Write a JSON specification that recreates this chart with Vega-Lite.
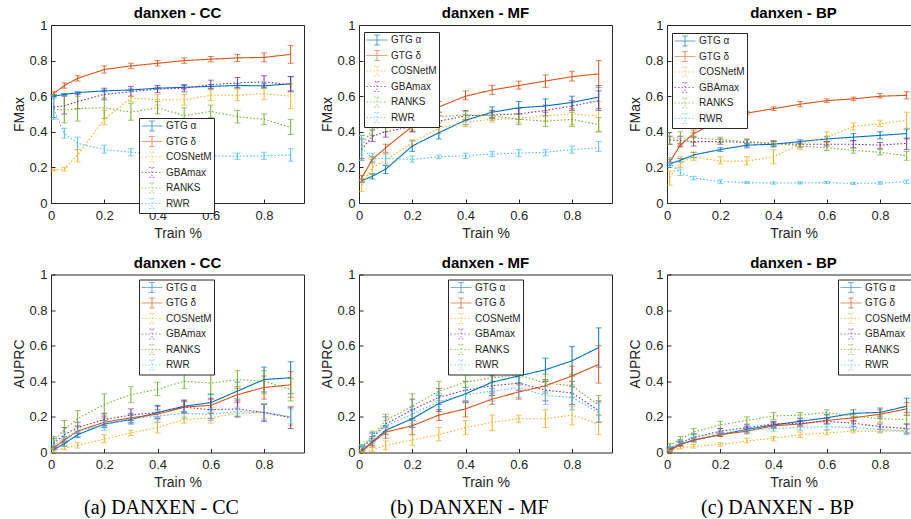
{
"$schema":"https://vega.github.io/schema/vega-lite/v6.json",
"background":"white",
"padding":{"left":12,"top":5,"right":0,"bottom":0},
"config":{
 "font":"Liberation Sans",
 "view":{"stroke":"#262626","strokeWidth":1},
 "axis":{"domain":false,"grid":false,"tickSize":-4,"tickColor":"#262626","labelColor":"#262626","labelFont":"Liberation Sans","labelFontSize":13,"labelOverlap":false,"labelFlush":false,"labelBound":false,"titleFont":"Liberation Sans","titleFontSize":14,"titleFontWeight":"normal","titleColor":"#262626"},
 "axisX":{"labelPadding":10,"titlePadding":4},
 "axisY":{"labelPadding":8,"titlePadding":2},
 "title":{"font":"Liberation Sans","fontSize":15,"fontWeight":"bold","color":"black","offset":-2},
 "range":{"category":["#0072BD","#D95319","#EDB120","#7E2F8E","#77AC30","#4DBEEE"]},
 "legend":{"title":null,"strokeColor":"#262626","fillColor":"white","padding":2,"labelFont":"Liberation Sans","labelFontSize":10,"labelColor":"#262626","labelOffset":8,"rowPadding":1.5,"symbolType":"M-1.9,0H1.9M0,-0.9V0.9M-0.5,-0.9H0.5M-0.5,0.9H0.5","symbolSize":121,"symbolOffset":5,"symbolStrokeWidth":1,"symbolFillColor":"transparent","cornerRadius":0}
},
"data":{"values":[
{"p":"CC F","m":"GTG α","x":0.01,"y":0.60,"l":0.59,"h":0.61},
{"p":"CC F","m":"GTG α","x":0.05,"y":0.61,"l":0.605,"h":0.615},
{"p":"CC F","m":"GTG α","x":0.1,"y":0.62,"l":0.615,"h":0.625},
{"p":"CC F","m":"GTG α","x":0.2,"y":0.63,"l":0.625,"h":0.635},
{"p":"CC F","m":"GTG α","x":0.3,"y":0.635,"l":0.63,"h":0.64},
{"p":"CC F","m":"GTG α","x":0.4,"y":0.645,"l":0.64,"h":0.65},
{"p":"CC F","m":"GTG α","x":0.5,"y":0.65,"l":0.64,"h":0.66},
{"p":"CC F","m":"GTG α","x":0.6,"y":0.655,"l":0.645,"h":0.665},
{"p":"CC F","m":"GTG α","x":0.7,"y":0.66,"l":0.65,"h":0.67},
{"p":"CC F","m":"GTG α","x":0.8,"y":0.658,"l":0.645,"h":0.67},
{"p":"CC F","m":"GTG α","x":0.9,"y":0.67,"l":0.63,"h":0.71},
{"p":"CC F","m":"GTG δ","x":0.01,"y":0.615,"l":0.605,"h":0.625},
{"p":"CC F","m":"GTG δ","x":0.05,"y":0.66,"l":0.645,"h":0.675},
{"p":"CC F","m":"GTG δ","x":0.1,"y":0.70,"l":0.685,"h":0.715},
{"p":"CC F","m":"GTG δ","x":0.2,"y":0.75,"l":0.73,"h":0.77},
{"p":"CC F","m":"GTG δ","x":0.3,"y":0.77,"l":0.755,"h":0.785},
{"p":"CC F","m":"GTG δ","x":0.4,"y":0.785,"l":0.77,"h":0.80},
{"p":"CC F","m":"GTG δ","x":0.5,"y":0.80,"l":0.785,"h":0.815},
{"p":"CC F","m":"GTG δ","x":0.6,"y":0.808,"l":0.793,"h":0.823},
{"p":"CC F","m":"GTG δ","x":0.7,"y":0.815,"l":0.795,"h":0.835},
{"p":"CC F","m":"GTG δ","x":0.8,"y":0.818,"l":0.793,"h":0.843},
{"p":"CC F","m":"GTG δ","x":0.9,"y":0.835,"l":0.785,"h":0.885},
{"p":"CC F","m":"COSNetM","x":0.01,"y":0.185,"l":0.18,"h":0.19},
{"p":"CC F","m":"COSNetM","x":0.05,"y":0.19,"l":0.18,"h":0.20},
{"p":"CC F","m":"COSNetM","x":0.1,"y":0.27,"l":0.23,"h":0.30},
{"p":"CC F","m":"COSNetM","x":0.2,"y":0.47,"l":0.44,"h":0.52},
{"p":"CC F","m":"COSNetM","x":0.3,"y":0.59,"l":0.57,"h":0.60},
{"p":"CC F","m":"COSNetM","x":0.4,"y":0.58,"l":0.55,"h":0.61},
{"p":"CC F","m":"COSNetM","x":0.5,"y":0.58,"l":0.55,"h":0.61},
{"p":"CC F","m":"COSNetM","x":0.6,"y":0.605,"l":0.575,"h":0.635},
{"p":"CC F","m":"COSNetM","x":0.7,"y":0.605,"l":0.575,"h":0.64},
{"p":"CC F","m":"COSNetM","x":0.8,"y":0.615,"l":0.58,"h":0.645},
{"p":"CC F","m":"COSNetM","x":0.9,"y":0.60,"l":0.53,"h":0.67},
{"p":"CC F","m":"GBAmax","x":0.01,"y":0.54,"l":0.48,"h":0.60},
{"p":"CC F","m":"GBAmax","x":0.05,"y":0.545,"l":0.50,"h":0.60},
{"p":"CC F","m":"GBAmax","x":0.1,"y":0.57,"l":0.53,"h":0.61},
{"p":"CC F","m":"GBAmax","x":0.2,"y":0.61,"l":0.58,"h":0.645},
{"p":"CC F","m":"GBAmax","x":0.3,"y":0.625,"l":0.60,"h":0.655},
{"p":"CC F","m":"GBAmax","x":0.4,"y":0.64,"l":0.62,"h":0.66},
{"p":"CC F","m":"GBAmax","x":0.5,"y":0.645,"l":0.625,"h":0.665},
{"p":"CC F","m":"GBAmax","x":0.6,"y":0.665,"l":0.64,"h":0.69},
{"p":"CC F","m":"GBAmax","x":0.7,"y":0.675,"l":0.645,"h":0.705},
{"p":"CC F","m":"GBAmax","x":0.8,"y":0.68,"l":0.65,"h":0.715},
{"p":"CC F","m":"GBAmax","x":0.9,"y":0.665,"l":0.625,"h":0.71},
{"p":"CC F","m":"RANKS","x":0.01,"y":0.53,"l":0.48,"h":0.61},
{"p":"CC F","m":"RANKS","x":0.05,"y":0.52,"l":0.45,"h":0.61},
{"p":"CC F","m":"RANKS","x":0.1,"y":0.53,"l":0.46,"h":0.60},
{"p":"CC F","m":"RANKS","x":0.2,"y":0.535,"l":0.475,"h":0.59},
{"p":"CC F","m":"RANKS","x":0.3,"y":0.51,"l":0.465,"h":0.56},
{"p":"CC F","m":"RANKS","x":0.4,"y":0.535,"l":0.50,"h":0.57},
{"p":"CC F","m":"RANKS","x":0.5,"y":0.49,"l":0.45,"h":0.535},
{"p":"CC F","m":"RANKS","x":0.6,"y":0.515,"l":0.48,"h":0.55},
{"p":"CC F","m":"RANKS","x":0.7,"y":0.485,"l":0.45,"h":0.52},
{"p":"CC F","m":"RANKS","x":0.8,"y":0.47,"l":0.44,"h":0.50},
{"p":"CC F","m":"RANKS","x":0.9,"y":0.425,"l":0.385,"h":0.47},
{"p":"CC F","m":"RWR","x":0.01,"y":0.53,"l":0.47,"h":0.60},
{"p":"CC F","m":"RWR","x":0.05,"y":0.39,"l":0.365,"h":0.42},
{"p":"CC F","m":"RWR","x":0.1,"y":0.335,"l":0.30,"h":0.37},
{"p":"CC F","m":"RWR","x":0.2,"y":0.30,"l":0.28,"h":0.325},
{"p":"CC F","m":"RWR","x":0.3,"y":0.285,"l":0.265,"h":0.305},
{"p":"CC F","m":"RWR","x":0.4,"y":0.275,"l":0.255,"h":0.29},
{"p":"CC F","m":"RWR","x":0.5,"y":0.265,"l":0.25,"h":0.28},
{"p":"CC F","m":"RWR","x":0.6,"y":0.265,"l":0.245,"h":0.285},
{"p":"CC F","m":"RWR","x":0.7,"y":0.262,"l":0.245,"h":0.28},
{"p":"CC F","m":"RWR","x":0.8,"y":0.265,"l":0.245,"h":0.285},
{"p":"CC F","m":"RWR","x":0.9,"y":0.27,"l":0.235,"h":0.305},

{"p":"MF F","m":"GTG α","x":0.01,"y":0.125,"l":0.115,"h":0.135},
{"p":"MF F","m":"GTG α","x":0.05,"y":0.15,"l":0.135,"h":0.165},
{"p":"MF F","m":"GTG α","x":0.1,"y":0.19,"l":0.165,"h":0.21},
{"p":"MF F","m":"GTG α","x":0.2,"y":0.32,"l":0.29,"h":0.35},
{"p":"MF F","m":"GTG α","x":0.3,"y":0.395,"l":0.36,"h":0.43},
{"p":"MF F","m":"GTG α","x":0.4,"y":0.465,"l":0.44,"h":0.495},
{"p":"MF F","m":"GTG α","x":0.5,"y":0.51,"l":0.48,"h":0.54},
{"p":"MF F","m":"GTG α","x":0.6,"y":0.535,"l":0.50,"h":0.57},
{"p":"MF F","m":"GTG α","x":0.7,"y":0.545,"l":0.51,"h":0.585},
{"p":"MF F","m":"GTG α","x":0.8,"y":0.565,"l":0.53,"h":0.60},
{"p":"MF F","m":"GTG α","x":0.9,"y":0.595,"l":0.53,"h":0.66},
{"p":"MF F","m":"GTG δ","x":0.01,"y":0.14,"l":0.12,"h":0.155},
{"p":"MF F","m":"GTG δ","x":0.05,"y":0.245,"l":0.23,"h":0.26},
{"p":"MF F","m":"GTG δ","x":0.1,"y":0.31,"l":0.285,"h":0.33},
{"p":"MF F","m":"GTG δ","x":0.2,"y":0.43,"l":0.40,"h":0.46},
{"p":"MF F","m":"GTG δ","x":0.3,"y":0.54,"l":0.51,"h":0.57},
{"p":"MF F","m":"GTG δ","x":0.4,"y":0.60,"l":0.58,"h":0.63},
{"p":"MF F","m":"GTG δ","x":0.5,"y":0.635,"l":0.61,"h":0.66},
{"p":"MF F","m":"GTG δ","x":0.6,"y":0.66,"l":0.64,"h":0.685},
{"p":"MF F","m":"GTG δ","x":0.7,"y":0.685,"l":0.65,"h":0.72},
{"p":"MF F","m":"GTG δ","x":0.8,"y":0.71,"l":0.685,"h":0.74},
{"p":"MF F","m":"GTG δ","x":0.9,"y":0.725,"l":0.65,"h":0.80},
{"p":"MF F","m":"COSNetM","x":0.01,"y":0.10,"l":0.065,"h":0.13},
{"p":"MF F","m":"COSNetM","x":0.05,"y":0.20,"l":0.16,"h":0.245},
{"p":"MF F","m":"COSNetM","x":0.1,"y":0.24,"l":0.21,"h":0.275},
{"p":"MF F","m":"COSNetM","x":0.2,"y":0.34,"l":0.32,"h":0.355},
{"p":"MF F","m":"COSNetM","x":0.3,"y":0.42,"l":0.39,"h":0.46},
{"p":"MF F","m":"COSNetM","x":0.4,"y":0.455,"l":0.43,"h":0.48},
{"p":"MF F","m":"COSNetM","x":0.5,"y":0.47,"l":0.455,"h":0.49},
{"p":"MF F","m":"COSNetM","x":0.6,"y":0.475,"l":0.45,"h":0.50},
{"p":"MF F","m":"COSNetM","x":0.7,"y":0.49,"l":0.46,"h":0.52},
{"p":"MF F","m":"COSNetM","x":0.8,"y":0.50,"l":0.44,"h":0.53},
{"p":"MF F","m":"COSNetM","x":0.9,"y":0.49,"l":0.40,"h":0.57},
{"p":"MF F","m":"GBAmax","x":0.01,"y":0.30,"l":0.25,"h":0.36},
{"p":"MF F","m":"GBAmax","x":0.05,"y":0.375,"l":0.345,"h":0.41},
{"p":"MF F","m":"GBAmax","x":0.1,"y":0.40,"l":0.37,"h":0.43},
{"p":"MF F","m":"GBAmax","x":0.2,"y":0.43,"l":0.40,"h":0.46},
{"p":"MF F","m":"GBAmax","x":0.3,"y":0.46,"l":0.43,"h":0.49},
{"p":"MF F","m":"GBAmax","x":0.4,"y":0.49,"l":0.465,"h":0.52},
{"p":"MF F","m":"GBAmax","x":0.5,"y":0.495,"l":0.475,"h":0.52},
{"p":"MF F","m":"GBAmax","x":0.6,"y":0.50,"l":0.47,"h":0.53},
{"p":"MF F","m":"GBAmax","x":0.7,"y":0.52,"l":0.49,"h":0.55},
{"p":"MF F","m":"GBAmax","x":0.8,"y":0.545,"l":0.52,"h":0.575},
{"p":"MF F","m":"GBAmax","x":0.9,"y":0.575,"l":0.52,"h":0.63},
{"p":"MF F","m":"RANKS","x":0.01,"y":0.32,"l":0.24,"h":0.38},
{"p":"MF F","m":"RANKS","x":0.05,"y":0.415,"l":0.38,"h":0.45},
{"p":"MF F","m":"RANKS","x":0.1,"y":0.43,"l":0.40,"h":0.465},
{"p":"MF F","m":"RANKS","x":0.2,"y":0.45,"l":0.41,"h":0.495},
{"p":"MF F","m":"RANKS","x":0.3,"y":0.485,"l":0.45,"h":0.51},
{"p":"MF F","m":"RANKS","x":0.4,"y":0.495,"l":0.47,"h":0.515},
{"p":"MF F","m":"RANKS","x":0.5,"y":0.49,"l":0.465,"h":0.515},
{"p":"MF F","m":"RANKS","x":0.6,"y":0.47,"l":0.44,"h":0.50},
{"p":"MF F","m":"RANKS","x":0.7,"y":0.46,"l":0.43,"h":0.49},
{"p":"MF F","m":"RANKS","x":0.8,"y":0.47,"l":0.43,"h":0.51},
{"p":"MF F","m":"RANKS","x":0.9,"y":0.44,"l":0.40,"h":0.48},
{"p":"MF F","m":"RWR","x":0.01,"y":0.31,"l":0.24,"h":0.38},
{"p":"MF F","m":"RWR","x":0.05,"y":0.25,"l":0.225,"h":0.28},
{"p":"MF F","m":"RWR","x":0.1,"y":0.25,"l":0.22,"h":0.28},
{"p":"MF F","m":"RWR","x":0.2,"y":0.245,"l":0.23,"h":0.265},
{"p":"MF F","m":"RWR","x":0.3,"y":0.26,"l":0.25,"h":0.27},
{"p":"MF F","m":"RWR","x":0.4,"y":0.265,"l":0.25,"h":0.28},
{"p":"MF F","m":"RWR","x":0.5,"y":0.275,"l":0.26,"h":0.29},
{"p":"MF F","m":"RWR","x":0.6,"y":0.28,"l":0.26,"h":0.30},
{"p":"MF F","m":"RWR","x":0.7,"y":0.285,"l":0.265,"h":0.30},
{"p":"MF F","m":"RWR","x":0.8,"y":0.30,"l":0.28,"h":0.32},
{"p":"MF F","m":"RWR","x":0.9,"y":0.31,"l":0.29,"h":0.345},

{"p":"BP F","m":"GTG α","x":0.01,"y":0.22,"l":0.21,"h":0.23},
{"p":"BP F","m":"GTG α","x":0.05,"y":0.24,"l":0.23,"h":0.25},
{"p":"BP F","m":"GTG α","x":0.1,"y":0.27,"l":0.255,"h":0.285},
{"p":"BP F","m":"GTG α","x":0.2,"y":0.30,"l":0.29,"h":0.31},
{"p":"BP F","m":"GTG α","x":0.3,"y":0.325,"l":0.31,"h":0.335},
{"p":"BP F","m":"GTG α","x":0.4,"y":0.33,"l":0.315,"h":0.345},
{"p":"BP F","m":"GTG α","x":0.5,"y":0.345,"l":0.335,"h":0.355},
{"p":"BP F","m":"GTG α","x":0.6,"y":0.36,"l":0.345,"h":0.375},
{"p":"BP F","m":"GTG α","x":0.7,"y":0.37,"l":0.35,"h":0.39},
{"p":"BP F","m":"GTG α","x":0.8,"y":0.38,"l":0.36,"h":0.40},
{"p":"BP F","m":"GTG α","x":0.9,"y":0.39,"l":0.36,"h":0.415},
{"p":"BP F","m":"GTG δ","x":0.01,"y":0.23,"l":0.22,"h":0.245},
{"p":"BP F","m":"GTG δ","x":0.05,"y":0.325,"l":0.315,"h":0.335},
{"p":"BP F","m":"GTG δ","x":0.1,"y":0.39,"l":0.375,"h":0.41},
{"p":"BP F","m":"GTG δ","x":0.2,"y":0.465,"l":0.45,"h":0.48},
{"p":"BP F","m":"GTG δ","x":0.3,"y":0.505,"l":0.495,"h":0.515},
{"p":"BP F","m":"GTG δ","x":0.4,"y":0.53,"l":0.52,"h":0.54},
{"p":"BP F","m":"GTG δ","x":0.5,"y":0.555,"l":0.54,"h":0.57},
{"p":"BP F","m":"GTG δ","x":0.6,"y":0.575,"l":0.565,"h":0.585},
{"p":"BP F","m":"GTG δ","x":0.7,"y":0.585,"l":0.575,"h":0.595},
{"p":"BP F","m":"GTG δ","x":0.8,"y":0.60,"l":0.59,"h":0.615},
{"p":"BP F","m":"GTG δ","x":0.9,"y":0.605,"l":0.585,"h":0.625},
{"p":"BP F","m":"COSNetM","x":0.01,"y":0.145,"l":0.10,"h":0.18},
{"p":"BP F","m":"COSNetM","x":0.05,"y":0.225,"l":0.20,"h":0.26},
{"p":"BP F","m":"COSNetM","x":0.1,"y":0.26,"l":0.24,"h":0.285},
{"p":"BP F","m":"COSNetM","x":0.2,"y":0.235,"l":0.22,"h":0.26},
{"p":"BP F","m":"COSNetM","x":0.3,"y":0.235,"l":0.215,"h":0.26},
{"p":"BP F","m":"COSNetM","x":0.4,"y":0.26,"l":0.22,"h":0.30},
{"p":"BP F","m":"COSNetM","x":0.5,"y":0.33,"l":0.30,"h":0.345},
{"p":"BP F","m":"COSNetM","x":0.6,"y":0.37,"l":0.34,"h":0.40},
{"p":"BP F","m":"COSNetM","x":0.7,"y":0.43,"l":0.41,"h":0.45},
{"p":"BP F","m":"COSNetM","x":0.8,"y":0.445,"l":0.43,"h":0.465},
{"p":"BP F","m":"COSNetM","x":0.9,"y":0.465,"l":0.42,"h":0.51},
{"p":"BP F","m":"GBAmax","x":0.01,"y":0.355,"l":0.33,"h":0.375},
{"p":"BP F","m":"GBAmax","x":0.05,"y":0.35,"l":0.32,"h":0.375},
{"p":"BP F","m":"GBAmax","x":0.1,"y":0.345,"l":0.32,"h":0.37},
{"p":"BP F","m":"GBAmax","x":0.2,"y":0.345,"l":0.33,"h":0.36},
{"p":"BP F","m":"GBAmax","x":0.3,"y":0.34,"l":0.32,"h":0.355},
{"p":"BP F","m":"GBAmax","x":0.4,"y":0.335,"l":0.32,"h":0.35},
{"p":"BP F","m":"GBAmax","x":0.5,"y":0.33,"l":0.315,"h":0.345},
{"p":"BP F","m":"GBAmax","x":0.6,"y":0.33,"l":0.32,"h":0.345},
{"p":"BP F","m":"GBAmax","x":0.7,"y":0.33,"l":0.31,"h":0.35},
{"p":"BP F","m":"GBAmax","x":0.8,"y":0.325,"l":0.305,"h":0.34},
{"p":"BP F","m":"GBAmax","x":0.9,"y":0.335,"l":0.30,"h":0.365},
{"p":"BP F","m":"RANKS","x":0.01,"y":0.365,"l":0.33,"h":0.395},
{"p":"BP F","m":"RANKS","x":0.05,"y":0.365,"l":0.33,"h":0.40},
{"p":"BP F","m":"RANKS","x":0.1,"y":0.365,"l":0.34,"h":0.395},
{"p":"BP F","m":"RANKS","x":0.2,"y":0.355,"l":0.34,"h":0.37},
{"p":"BP F","m":"RANKS","x":0.3,"y":0.345,"l":0.33,"h":0.36},
{"p":"BP F","m":"RANKS","x":0.4,"y":0.335,"l":0.32,"h":0.345},
{"p":"BP F","m":"RANKS","x":0.5,"y":0.32,"l":0.31,"h":0.33},
{"p":"BP F","m":"RANKS","x":0.6,"y":0.31,"l":0.295,"h":0.325},
{"p":"BP F","m":"RANKS","x":0.7,"y":0.295,"l":0.28,"h":0.31},
{"p":"BP F","m":"RANKS","x":0.8,"y":0.285,"l":0.27,"h":0.30},
{"p":"BP F","m":"RANKS","x":0.9,"y":0.265,"l":0.24,"h":0.29},
{"p":"BP F","m":"RWR","x":0.01,"y":0.225,"l":0.20,"h":0.255},
{"p":"BP F","m":"RWR","x":0.05,"y":0.17,"l":0.155,"h":0.19},
{"p":"BP F","m":"RWR","x":0.1,"y":0.14,"l":0.13,"h":0.15},
{"p":"BP F","m":"RWR","x":0.2,"y":0.12,"l":0.11,"h":0.13},
{"p":"BP F","m":"RWR","x":0.3,"y":0.115,"l":0.11,"h":0.12},
{"p":"BP F","m":"RWR","x":0.4,"y":0.112,"l":0.106,"h":0.118},
{"p":"BP F","m":"RWR","x":0.5,"y":0.113,"l":0.107,"h":0.119},
{"p":"BP F","m":"RWR","x":0.6,"y":0.115,"l":0.109,"h":0.121},
{"p":"BP F","m":"RWR","x":0.7,"y":0.11,"l":0.104,"h":0.116},
{"p":"BP F","m":"RWR","x":0.8,"y":0.112,"l":0.105,"h":0.12},
{"p":"BP F","m":"RWR","x":0.9,"y":0.12,"l":0.11,"h":0.13},

{"p":"CC A","m":"GTG α","x":0.01,"y":0.015,"l":0.0,"h":0.03},
{"p":"CC A","m":"GTG α","x":0.05,"y":0.05,"l":0.035,"h":0.07},
{"p":"CC A","m":"GTG α","x":0.1,"y":0.10,"l":0.085,"h":0.12},
{"p":"CC A","m":"GTG α","x":0.2,"y":0.16,"l":0.14,"h":0.18},
{"p":"CC A","m":"GTG α","x":0.3,"y":0.185,"l":0.16,"h":0.21},
{"p":"CC A","m":"GTG α","x":0.4,"y":0.225,"l":0.20,"h":0.265},
{"p":"CC A","m":"GTG α","x":0.5,"y":0.26,"l":0.23,"h":0.29},
{"p":"CC A","m":"GTG α","x":0.6,"y":0.28,"l":0.24,"h":0.325},
{"p":"CC A","m":"GTG α","x":0.7,"y":0.345,"l":0.30,"h":0.395},
{"p":"CC A","m":"GTG α","x":0.8,"y":0.41,"l":0.34,"h":0.48},
{"p":"CC A","m":"GTG α","x":0.9,"y":0.42,"l":0.33,"h":0.51},
{"p":"CC A","m":"GTG δ","x":0.01,"y":0.025,"l":0.01,"h":0.04},
{"p":"CC A","m":"GTG δ","x":0.05,"y":0.07,"l":0.055,"h":0.09},
{"p":"CC A","m":"GTG δ","x":0.1,"y":0.12,"l":0.105,"h":0.145},
{"p":"CC A","m":"GTG δ","x":0.2,"y":0.17,"l":0.15,"h":0.20},
{"p":"CC A","m":"GTG δ","x":0.3,"y":0.195,"l":0.17,"h":0.22},
{"p":"CC A","m":"GTG δ","x":0.4,"y":0.215,"l":0.19,"h":0.24},
{"p":"CC A","m":"GTG δ","x":0.5,"y":0.255,"l":0.225,"h":0.285},
{"p":"CC A","m":"GTG δ","x":0.6,"y":0.265,"l":0.22,"h":0.305},
{"p":"CC A","m":"GTG δ","x":0.7,"y":0.325,"l":0.28,"h":0.37},
{"p":"CC A","m":"GTG δ","x":0.8,"y":0.365,"l":0.30,"h":0.43},
{"p":"CC A","m":"GTG δ","x":0.9,"y":0.38,"l":0.31,"h":0.455},
{"p":"CC A","m":"COSNetM","x":0.01,"y":0.01,"l":0.0,"h":0.02},
{"p":"CC A","m":"COSNetM","x":0.05,"y":0.025,"l":0.015,"h":0.04},
{"p":"CC A","m":"COSNetM","x":0.1,"y":0.04,"l":0.025,"h":0.055},
{"p":"CC A","m":"COSNetM","x":0.2,"y":0.075,"l":0.055,"h":0.10},
{"p":"CC A","m":"COSNetM","x":0.3,"y":0.11,"l":0.095,"h":0.125},
{"p":"CC A","m":"COSNetM","x":0.4,"y":0.14,"l":0.11,"h":0.17},
{"p":"CC A","m":"COSNetM","x":0.5,"y":0.185,"l":0.165,"h":0.20},
{"p":"CC A","m":"COSNetM","x":0.6,"y":0.195,"l":0.165,"h":0.225},
{"p":"CC A","m":"COSNetM","x":0.7,"y":0.22,"l":0.20,"h":0.245},
{"p":"CC A","m":"COSNetM","x":0.8,"y":0.225,"l":0.19,"h":0.27},
{"p":"CC A","m":"COSNetM","x":0.9,"y":0.20,"l":0.15,"h":0.26},
{"p":"CC A","m":"GBAmax","x":0.01,"y":0.05,"l":0.02,"h":0.08},
{"p":"CC A","m":"GBAmax","x":0.05,"y":0.10,"l":0.06,"h":0.14},
{"p":"CC A","m":"GBAmax","x":0.1,"y":0.14,"l":0.11,"h":0.17},
{"p":"CC A","m":"GBAmax","x":0.2,"y":0.185,"l":0.15,"h":0.22},
{"p":"CC A","m":"GBAmax","x":0.3,"y":0.21,"l":0.18,"h":0.245},
{"p":"CC A","m":"GBAmax","x":0.4,"y":0.225,"l":0.19,"h":0.26},
{"p":"CC A","m":"GBAmax","x":0.5,"y":0.255,"l":0.22,"h":0.295},
{"p":"CC A","m":"GBAmax","x":0.6,"y":0.24,"l":0.19,"h":0.30},
{"p":"CC A","m":"GBAmax","x":0.7,"y":0.245,"l":0.20,"h":0.29},
{"p":"CC A","m":"GBAmax","x":0.8,"y":0.225,"l":0.175,"h":0.27},
{"p":"CC A","m":"GBAmax","x":0.9,"y":0.195,"l":0.135,"h":0.255},
{"p":"CC A","m":"RANKS","x":0.01,"y":0.06,"l":0.03,"h":0.09},
{"p":"CC A","m":"RANKS","x":0.05,"y":0.13,"l":0.08,"h":0.18},
{"p":"CC A","m":"RANKS","x":0.1,"y":0.19,"l":0.15,"h":0.235},
{"p":"CC A","m":"RANKS","x":0.2,"y":0.27,"l":0.21,"h":0.33},
{"p":"CC A","m":"RANKS","x":0.3,"y":0.325,"l":0.28,"h":0.37},
{"p":"CC A","m":"RANKS","x":0.4,"y":0.355,"l":0.32,"h":0.395},
{"p":"CC A","m":"RANKS","x":0.5,"y":0.40,"l":0.36,"h":0.44},
{"p":"CC A","m":"RANKS","x":0.6,"y":0.39,"l":0.33,"h":0.455},
{"p":"CC A","m":"RANKS","x":0.7,"y":0.41,"l":0.36,"h":0.46},
{"p":"CC A","m":"RANKS","x":0.8,"y":0.40,"l":0.33,"h":0.46},
{"p":"CC A","m":"RANKS","x":0.9,"y":0.355,"l":0.29,"h":0.415},
{"p":"CC A","m":"RWR","x":0.01,"y":0.04,"l":0.02,"h":0.07},
{"p":"CC A","m":"RWR","x":0.05,"y":0.08,"l":0.05,"h":0.115},
{"p":"CC A","m":"RWR","x":0.1,"y":0.12,"l":0.09,"h":0.15},
{"p":"CC A","m":"RWR","x":0.2,"y":0.155,"l":0.125,"h":0.19},
{"p":"CC A","m":"RWR","x":0.3,"y":0.19,"l":0.165,"h":0.215},
{"p":"CC A","m":"RWR","x":0.4,"y":0.205,"l":0.17,"h":0.24},
{"p":"CC A","m":"RWR","x":0.5,"y":0.22,"l":0.19,"h":0.255},
{"p":"CC A","m":"RWR","x":0.6,"y":0.215,"l":0.18,"h":0.25},
{"p":"CC A","m":"RWR","x":0.7,"y":0.23,"l":0.205,"h":0.255},
{"p":"CC A","m":"RWR","x":0.8,"y":0.225,"l":0.18,"h":0.275},
{"p":"CC A","m":"RWR","x":0.9,"y":0.20,"l":0.16,"h":0.245},

{"p":"MF A","m":"GTG α","x":0.01,"y":0.01,"l":0.0,"h":0.03},
{"p":"MF A","m":"GTG α","x":0.05,"y":0.06,"l":0.04,"h":0.09},
{"p":"MF A","m":"GTG α","x":0.1,"y":0.125,"l":0.10,"h":0.15},
{"p":"MF A","m":"GTG α","x":0.2,"y":0.19,"l":0.14,"h":0.24},
{"p":"MF A","m":"GTG α","x":0.3,"y":0.275,"l":0.23,"h":0.32},
{"p":"MF A","m":"GTG α","x":0.4,"y":0.33,"l":0.28,"h":0.365},
{"p":"MF A","m":"GTG α","x":0.5,"y":0.395,"l":0.34,"h":0.45},
{"p":"MF A","m":"GTG α","x":0.6,"y":0.43,"l":0.39,"h":0.47},
{"p":"MF A","m":"GTG α","x":0.7,"y":0.465,"l":0.40,"h":0.53},
{"p":"MF A","m":"GTG α","x":0.8,"y":0.515,"l":0.43,"h":0.595},
{"p":"MF A","m":"GTG α","x":0.9,"y":0.59,"l":0.48,"h":0.70},
{"p":"MF A","m":"GTG δ","x":0.01,"y":0.005,"l":0.0,"h":0.015},
{"p":"MF A","m":"GTG δ","x":0.05,"y":0.055,"l":0.03,"h":0.08},
{"p":"MF A","m":"GTG δ","x":0.1,"y":0.115,"l":0.08,"h":0.145},
{"p":"MF A","m":"GTG δ","x":0.2,"y":0.15,"l":0.10,"h":0.19},
{"p":"MF A","m":"GTG δ","x":0.3,"y":0.21,"l":0.18,"h":0.24},
{"p":"MF A","m":"GTG δ","x":0.4,"y":0.245,"l":0.20,"h":0.285},
{"p":"MF A","m":"GTG δ","x":0.5,"y":0.30,"l":0.27,"h":0.33},
{"p":"MF A","m":"GTG δ","x":0.6,"y":0.34,"l":0.30,"h":0.38},
{"p":"MF A","m":"GTG δ","x":0.7,"y":0.375,"l":0.34,"h":0.41},
{"p":"MF A","m":"GTG δ","x":0.8,"y":0.43,"l":0.37,"h":0.485},
{"p":"MF A","m":"GTG δ","x":0.9,"y":0.495,"l":0.39,"h":0.60},
{"p":"MF A","m":"COSNetM","x":0.01,"y":0.005,"l":0.0,"h":0.015},
{"p":"MF A","m":"COSNetM","x":0.05,"y":0.015,"l":0.005,"h":0.03},
{"p":"MF A","m":"COSNetM","x":0.1,"y":0.04,"l":0.015,"h":0.065},
{"p":"MF A","m":"COSNetM","x":0.2,"y":0.07,"l":0.04,"h":0.10},
{"p":"MF A","m":"COSNetM","x":0.3,"y":0.10,"l":0.065,"h":0.14},
{"p":"MF A","m":"COSNetM","x":0.4,"y":0.14,"l":0.10,"h":0.18},
{"p":"MF A","m":"COSNetM","x":0.5,"y":0.17,"l":0.125,"h":0.21},
{"p":"MF A","m":"COSNetM","x":0.6,"y":0.19,"l":0.17,"h":0.21},
{"p":"MF A","m":"COSNetM","x":0.7,"y":0.19,"l":0.14,"h":0.24},
{"p":"MF A","m":"COSNetM","x":0.8,"y":0.21,"l":0.155,"h":0.26},
{"p":"MF A","m":"COSNetM","x":0.9,"y":0.16,"l":0.10,"h":0.21},
{"p":"MF A","m":"GBAmax","x":0.01,"y":0.02,"l":0.005,"h":0.035},
{"p":"MF A","m":"GBAmax","x":0.05,"y":0.085,"l":0.06,"h":0.11},
{"p":"MF A","m":"GBAmax","x":0.1,"y":0.16,"l":0.12,"h":0.20},
{"p":"MF A","m":"GBAmax","x":0.2,"y":0.24,"l":0.18,"h":0.30},
{"p":"MF A","m":"GBAmax","x":0.3,"y":0.31,"l":0.27,"h":0.36},
{"p":"MF A","m":"GBAmax","x":0.4,"y":0.35,"l":0.29,"h":0.40},
{"p":"MF A","m":"GBAmax","x":0.5,"y":0.375,"l":0.32,"h":0.43},
{"p":"MF A","m":"GBAmax","x":0.6,"y":0.39,"l":0.35,"h":0.44},
{"p":"MF A","m":"GBAmax","x":0.7,"y":0.35,"l":0.29,"h":0.40},
{"p":"MF A","m":"GBAmax","x":0.8,"y":0.335,"l":0.27,"h":0.40},
{"p":"MF A","m":"GBAmax","x":0.9,"y":0.235,"l":0.17,"h":0.29},
{"p":"MF A","m":"RANKS","x":0.01,"y":0.03,"l":0.015,"h":0.045},
{"p":"MF A","m":"RANKS","x":0.05,"y":0.095,"l":0.07,"h":0.12},
{"p":"MF A","m":"RANKS","x":0.1,"y":0.18,"l":0.14,"h":0.215},
{"p":"MF A","m":"RANKS","x":0.2,"y":0.26,"l":0.19,"h":0.33},
{"p":"MF A","m":"RANKS","x":0.3,"y":0.345,"l":0.29,"h":0.40},
{"p":"MF A","m":"RANKS","x":0.4,"y":0.395,"l":0.35,"h":0.44},
{"p":"MF A","m":"RANKS","x":0.5,"y":0.42,"l":0.36,"h":0.475},
{"p":"MF A","m":"RANKS","x":0.6,"y":0.435,"l":0.39,"h":0.475},
{"p":"MF A","m":"RANKS","x":0.7,"y":0.39,"l":0.33,"h":0.44},
{"p":"MF A","m":"RANKS","x":0.8,"y":0.375,"l":0.31,"h":0.44},
{"p":"MF A","m":"RANKS","x":0.9,"y":0.265,"l":0.21,"h":0.32},
{"p":"MF A","m":"RWR","x":0.01,"y":0.025,"l":0.01,"h":0.04},
{"p":"MF A","m":"RWR","x":0.05,"y":0.08,"l":0.05,"h":0.11},
{"p":"MF A","m":"RWR","x":0.1,"y":0.15,"l":0.11,"h":0.18},
{"p":"MF A","m":"RWR","x":0.2,"y":0.215,"l":0.16,"h":0.26},
{"p":"MF A","m":"RWR","x":0.3,"y":0.285,"l":0.24,"h":0.33},
{"p":"MF A","m":"RWR","x":0.4,"y":0.325,"l":0.28,"h":0.365},
{"p":"MF A","m":"RWR","x":0.5,"y":0.345,"l":0.29,"h":0.40},
{"p":"MF A","m":"RWR","x":0.6,"y":0.365,"l":0.31,"h":0.42},
{"p":"MF A","m":"RWR","x":0.7,"y":0.32,"l":0.27,"h":0.37},
{"p":"MF A","m":"RWR","x":0.8,"y":0.31,"l":0.24,"h":0.38},
{"p":"MF A","m":"RWR","x":0.9,"y":0.225,"l":0.17,"h":0.28},

{"p":"BP A","m":"GTG α","x":0.01,"y":0.015,"l":0.005,"h":0.025},
{"p":"BP A","m":"GTG α","x":0.05,"y":0.045,"l":0.035,"h":0.06},
{"p":"BP A","m":"GTG α","x":0.1,"y":0.07,"l":0.06,"h":0.085},
{"p":"BP A","m":"GTG α","x":0.2,"y":0.10,"l":0.09,"h":0.115},
{"p":"BP A","m":"GTG α","x":0.3,"y":0.13,"l":0.115,"h":0.145},
{"p":"BP A","m":"GTG α","x":0.4,"y":0.155,"l":0.14,"h":0.17},
{"p":"BP A","m":"GTG α","x":0.5,"y":0.175,"l":0.16,"h":0.19},
{"p":"BP A","m":"GTG α","x":0.6,"y":0.195,"l":0.18,"h":0.215},
{"p":"BP A","m":"GTG α","x":0.7,"y":0.22,"l":0.20,"h":0.24},
{"p":"BP A","m":"GTG α","x":0.8,"y":0.225,"l":0.20,"h":0.25},
{"p":"BP A","m":"GTG α","x":0.9,"y":0.26,"l":0.225,"h":0.305},
{"p":"BP A","m":"GTG δ","x":0.01,"y":0.01,"l":0.003,"h":0.018},
{"p":"BP A","m":"GTG δ","x":0.05,"y":0.045,"l":0.035,"h":0.055},
{"p":"BP A","m":"GTG δ","x":0.1,"y":0.07,"l":0.06,"h":0.08},
{"p":"BP A","m":"GTG δ","x":0.2,"y":0.10,"l":0.09,"h":0.11},
{"p":"BP A","m":"GTG δ","x":0.3,"y":0.12,"l":0.105,"h":0.135},
{"p":"BP A","m":"GTG δ","x":0.4,"y":0.15,"l":0.135,"h":0.165},
{"p":"BP A","m":"GTG δ","x":0.5,"y":0.16,"l":0.145,"h":0.175},
{"p":"BP A","m":"GTG δ","x":0.6,"y":0.18,"l":0.165,"h":0.195},
{"p":"BP A","m":"GTG δ","x":0.7,"y":0.195,"l":0.175,"h":0.215},
{"p":"BP A","m":"GTG δ","x":0.8,"y":0.215,"l":0.19,"h":0.24},
{"p":"BP A","m":"GTG δ","x":0.9,"y":0.245,"l":0.21,"h":0.28},
{"p":"BP A","m":"COSNetM","x":0.01,"y":0.01,"l":0.005,"h":0.015},
{"p":"BP A","m":"COSNetM","x":0.05,"y":0.025,"l":0.02,"h":0.035},
{"p":"BP A","m":"COSNetM","x":0.1,"y":0.035,"l":0.025,"h":0.045},
{"p":"BP A","m":"COSNetM","x":0.2,"y":0.045,"l":0.035,"h":0.055},
{"p":"BP A","m":"COSNetM","x":0.3,"y":0.065,"l":0.055,"h":0.08},
{"p":"BP A","m":"COSNetM","x":0.4,"y":0.08,"l":0.065,"h":0.09},
{"p":"BP A","m":"COSNetM","x":0.5,"y":0.10,"l":0.085,"h":0.115},
{"p":"BP A","m":"COSNetM","x":0.6,"y":0.11,"l":0.10,"h":0.125},
{"p":"BP A","m":"COSNetM","x":0.7,"y":0.12,"l":0.11,"h":0.13},
{"p":"BP A","m":"COSNetM","x":0.8,"y":0.12,"l":0.11,"h":0.13},
{"p":"BP A","m":"COSNetM","x":0.9,"y":0.12,"l":0.105,"h":0.13},
{"p":"BP A","m":"GBAmax","x":0.01,"y":0.02,"l":0.01,"h":0.03},
{"p":"BP A","m":"GBAmax","x":0.05,"y":0.055,"l":0.04,"h":0.07},
{"p":"BP A","m":"GBAmax","x":0.1,"y":0.085,"l":0.07,"h":0.105},
{"p":"BP A","m":"GBAmax","x":0.2,"y":0.12,"l":0.105,"h":0.135},
{"p":"BP A","m":"GBAmax","x":0.3,"y":0.14,"l":0.125,"h":0.155},
{"p":"BP A","m":"GBAmax","x":0.4,"y":0.16,"l":0.145,"h":0.175},
{"p":"BP A","m":"GBAmax","x":0.5,"y":0.165,"l":0.15,"h":0.18},
{"p":"BP A","m":"GBAmax","x":0.6,"y":0.175,"l":0.16,"h":0.19},
{"p":"BP A","m":"GBAmax","x":0.7,"y":0.165,"l":0.145,"h":0.18},
{"p":"BP A","m":"GBAmax","x":0.8,"y":0.145,"l":0.13,"h":0.16},
{"p":"BP A","m":"GBAmax","x":0.9,"y":0.135,"l":0.11,"h":0.16},
{"p":"BP A","m":"RANKS","x":0.01,"y":0.04,"l":0.03,"h":0.05},
{"p":"BP A","m":"RANKS","x":0.05,"y":0.075,"l":0.06,"h":0.09},
{"p":"BP A","m":"RANKS","x":0.1,"y":0.115,"l":0.10,"h":0.135},
{"p":"BP A","m":"RANKS","x":0.2,"y":0.155,"l":0.135,"h":0.175},
{"p":"BP A","m":"RANKS","x":0.3,"y":0.18,"l":0.16,"h":0.20},
{"p":"BP A","m":"RANKS","x":0.4,"y":0.205,"l":0.185,"h":0.225},
{"p":"BP A","m":"RANKS","x":0.5,"y":0.21,"l":0.195,"h":0.225},
{"p":"BP A","m":"RANKS","x":0.6,"y":0.225,"l":0.21,"h":0.24},
{"p":"BP A","m":"RANKS","x":0.7,"y":0.205,"l":0.19,"h":0.22},
{"p":"BP A","m":"RANKS","x":0.8,"y":0.19,"l":0.17,"h":0.21},
{"p":"BP A","m":"RANKS","x":0.9,"y":0.185,"l":0.16,"h":0.21},
{"p":"BP A","m":"RWR","x":0.01,"y":0.025,"l":0.015,"h":0.035},
{"p":"BP A","m":"RWR","x":0.05,"y":0.055,"l":0.045,"h":0.07},
{"p":"BP A","m":"RWR","x":0.1,"y":0.085,"l":0.07,"h":0.10},
{"p":"BP A","m":"RWR","x":0.2,"y":0.11,"l":0.095,"h":0.125},
{"p":"BP A","m":"RWR","x":0.3,"y":0.125,"l":0.11,"h":0.14},
{"p":"BP A","m":"RWR","x":0.4,"y":0.135,"l":0.12,"h":0.15},
{"p":"BP A","m":"RWR","x":0.5,"y":0.14,"l":0.125,"h":0.155},
{"p":"BP A","m":"RWR","x":0.6,"y":0.145,"l":0.13,"h":0.16},
{"p":"BP A","m":"RWR","x":0.7,"y":0.14,"l":0.125,"h":0.155},
{"p":"BP A","m":"RWR","x":0.8,"y":0.13,"l":0.115,"h":0.145},
{"p":"BP A","m":"RWR","x":0.9,"y":0.12,"l":0.10,"h":0.135}
]},
"hconcat":[
{"title":{"text":"(a) DANXEN - CC","orient":"bottom","font":"Liberation Serif","fontSize":20,"fontWeight":"normal","color":"black","anchor":"middle","offset":8,"dx":3},
 "spacing":13.5,
 "vconcat":[
 {"width":253,"height":178,"title":"danxen - CC","transform":[{"filter":"datum.p==='CC F'"}],
  "encoding":{"x":{"field":"x","type":"quantitative","scale":{"domain":[0,0.95],"nice":false},"axis":{"values":[0,0.2,0.4,0.6,0.8],"format":"~g","title":"Train %"}}},
  "layer":[
   {"mark":{"type":"errorbar","ticks":{"size":6}},"encoding":{"y":{"field":"l","type":"quantitative","scale":{"domain":[0,1],"nice":false},"axis":{"values":[0,0.2,0.4,0.6,0.8,1],"format":"~g","title":"FMax"}},"y2":{"field":"h"},"color":{"field":"m","type":"nominal","scale":{"domain":["GTG α","GTG δ","COSNetM","GBAmax","RANKS","RWR"]},"legend":{"orient":"none","legendX":88,"legendY":93}}}},
   {"mark":{"type":"line","strokeWidth":1.1},"encoding":{"y":{"field":"y","type":"quantitative","axis":{"values":[0,0.2,0.4,0.6,0.8,1],"format":"~g","title":"FMax"}},"color":{"field":"m","type":"nominal","legend":{"orient":"none","legendX":88,"legendY":93}},"strokeDash":{"field":"m","type":"nominal","scale":{"domain":["GTG α","GTG δ","COSNetM","GBAmax","RANKS","RWR"],"range":[[1,0],[1,0],[1.5,2],[1.5,2],[1.5,2],[1.5,2]]},"legend":{"orient":"none","legendX":88,"legendY":93}}}}
  ]},
 {"width":253,"height":178,"title":"danxen - CC","transform":[{"filter":"datum.p==='CC A'"}],
  "encoding":{"x":{"field":"x","type":"quantitative","scale":{"domain":[0,0.95],"nice":false},"axis":{"values":[0,0.2,0.4,0.6,0.8],"format":"~g","title":"Train %"}}},
  "layer":[
   {"mark":{"type":"errorbar","ticks":{"size":6}},"encoding":{"y":{"field":"l","type":"quantitative","scale":{"domain":[0,1],"nice":false},"axis":{"values":[0,0.2,0.4,0.6,0.8,1],"format":"~g","title":"AUPRC"}},"y2":{"field":"h"},"color":{"field":"m","type":"nominal","scale":{"domain":["GTG α","GTG δ","COSNetM","GBAmax","RANKS","RWR"]},"legend":{"orient":"none","legendX":88,"legendY":5}}}},
   {"mark":{"type":"line","strokeWidth":1.1},"encoding":{"y":{"field":"y","type":"quantitative","axis":{"values":[0,0.2,0.4,0.6,0.8,1],"format":"~g","title":"AUPRC"}},"color":{"field":"m","type":"nominal","legend":{"orient":"none","legendX":88,"legendY":5}},"strokeDash":{"field":"m","type":"nominal","scale":{"domain":["GTG α","GTG δ","COSNetM","GBAmax","RANKS","RWR"],"range":[[1,0],[1,0],[1.5,2],[1.5,2],[1.5,2],[1.5,2]]},"legend":{"orient":"none","legendX":88,"legendY":5}}}}
  ]}
 ],
 "resolve":{"scale":{"x":"independent","y":"independent","color":"independent","strokeDash":"independent"},"legend":{"color":"independent","strokeDash":"independent"}}
},
{"title":{"text":"(b) DANXEN - MF","orient":"bottom","font":"Liberation Serif","fontSize":20,"fontWeight":"normal","color":"black","anchor":"middle","offset":8,"dx":3},
 "spacing":13.5,
 "vconcat":[
 {"width":253,"height":178,"title":"danxen - MF","transform":[{"filter":"datum.p==='MF F'"}],
  "encoding":{"x":{"field":"x","type":"quantitative","scale":{"domain":[0,0.95],"nice":false},"axis":{"values":[0,0.2,0.4,0.6,0.8],"format":"~g","title":"Train %"}}},
  "layer":[
   {"mark":{"type":"errorbar","ticks":{"size":6}},"encoding":{"y":{"field":"l","type":"quantitative","scale":{"domain":[0,1],"nice":false},"axis":{"values":[0,0.2,0.4,0.6,0.8,1],"format":"~g","title":"FMax"}},"y2":{"field":"h"},"color":{"field":"m","type":"nominal","scale":{"domain":["GTG α","GTG δ","COSNetM","GBAmax","RANKS","RWR"]},"legend":{"orient":"none","legendX":5,"legendY":7}}}},
   {"mark":{"type":"line","strokeWidth":1.1},"encoding":{"y":{"field":"y","type":"quantitative","axis":{"values":[0,0.2,0.4,0.6,0.8,1],"format":"~g","title":"FMax"}},"color":{"field":"m","type":"nominal","legend":{"orient":"none","legendX":5,"legendY":7}},"strokeDash":{"field":"m","type":"nominal","scale":{"domain":["GTG α","GTG δ","COSNetM","GBAmax","RANKS","RWR"],"range":[[1,0],[1,0],[1.5,2],[1.5,2],[1.5,2],[1.5,2]]},"legend":{"orient":"none","legendX":5,"legendY":7}}}}
  ]},
 {"width":253,"height":178,"title":"danxen - MF","transform":[{"filter":"datum.p==='MF A'"}],
  "encoding":{"x":{"field":"x","type":"quantitative","scale":{"domain":[0,0.95],"nice":false},"axis":{"values":[0,0.2,0.4,0.6,0.8],"format":"~g","title":"Train %"}}},
  "layer":[
   {"mark":{"type":"errorbar","ticks":{"size":6}},"encoding":{"y":{"field":"l","type":"quantitative","scale":{"domain":[0,1],"nice":false},"axis":{"values":[0,0.2,0.4,0.6,0.8,1],"format":"~g","title":"AUPRC"}},"y2":{"field":"h"},"color":{"field":"m","type":"nominal","scale":{"domain":["GTG α","GTG δ","COSNetM","GBAmax","RANKS","RWR"]},"legend":{"orient":"none","legendX":89,"legendY":5}}}},
   {"mark":{"type":"line","strokeWidth":1.1},"encoding":{"y":{"field":"y","type":"quantitative","axis":{"values":[0,0.2,0.4,0.6,0.8,1],"format":"~g","title":"AUPRC"}},"color":{"field":"m","type":"nominal","legend":{"orient":"none","legendX":89,"legendY":5}},"strokeDash":{"field":"m","type":"nominal","scale":{"domain":["GTG α","GTG δ","COSNetM","GBAmax","RANKS","RWR"],"range":[[1,0],[1,0],[1.5,2],[1.5,2],[1.5,2],[1.5,2]]},"legend":{"orient":"none","legendX":89,"legendY":5}}}}
  ]}
 ],
 "resolve":{"scale":{"x":"independent","y":"independent","color":"independent","strokeDash":"independent"},"legend":{"color":"independent","strokeDash":"independent"}}
},
{"title":{"text":"(c) DANXEN - BP","orient":"bottom","font":"Liberation Serif","fontSize":20,"fontWeight":"normal","color":"black","anchor":"middle","offset":8,"dx":3},
 "spacing":13.5,
 "vconcat":[
 {"width":253,"height":178,"title":"danxen - BP","transform":[{"filter":"datum.p==='BP F'"}],
  "encoding":{"x":{"field":"x","type":"quantitative","scale":{"domain":[0,0.95],"nice":false},"axis":{"values":[0,0.2,0.4,0.6,0.8],"format":"~g","title":"Train %"}}},
  "layer":[
   {"mark":{"type":"errorbar","ticks":{"size":6}},"encoding":{"y":{"field":"l","type":"quantitative","scale":{"domain":[0,1],"nice":false},"axis":{"values":[0,0.2,0.4,0.6,0.8,1],"format":"~g","title":"FMax"}},"y2":{"field":"h"},"color":{"field":"m","type":"nominal","scale":{"domain":["GTG α","GTG δ","COSNetM","GBAmax","RANKS","RWR"]},"legend":{"orient":"none","legendX":5,"legendY":8}}}},
   {"mark":{"type":"line","strokeWidth":1.1},"encoding":{"y":{"field":"y","type":"quantitative","axis":{"values":[0,0.2,0.4,0.6,0.8,1],"format":"~g","title":"FMax"}},"color":{"field":"m","type":"nominal","legend":{"orient":"none","legendX":5,"legendY":8}},"strokeDash":{"field":"m","type":"nominal","scale":{"domain":["GTG α","GTG δ","COSNetM","GBAmax","RANKS","RWR"],"range":[[1,0],[1,0],[1.5,2],[1.5,2],[1.5,2],[1.5,2]]},"legend":{"orient":"none","legendX":5,"legendY":8}}}}
  ]},
 {"width":253,"height":178,"title":"danxen - BP","transform":[{"filter":"datum.p==='BP A'"}],
  "encoding":{"x":{"field":"x","type":"quantitative","scale":{"domain":[0,0.95],"nice":false},"axis":{"values":[0,0.2,0.4,0.6,0.8],"format":"~g","title":"Train %"}}},
  "layer":[
   {"mark":{"type":"errorbar","ticks":{"size":6}},"encoding":{"y":{"field":"l","type":"quantitative","scale":{"domain":[0,1],"nice":false},"axis":{"values":[0,0.2,0.4,0.6,0.8,1],"format":"~g","title":"AUPRC"}},"y2":{"field":"h"},"color":{"field":"m","type":"nominal","scale":{"domain":["GTG α","GTG δ","COSNetM","GBAmax","RANKS","RWR"]},"legend":{"orient":"none","legendX":171,"legendY":5}}}},
   {"mark":{"type":"line","strokeWidth":1.1},"encoding":{"y":{"field":"y","type":"quantitative","axis":{"values":[0,0.2,0.4,0.6,0.8,1],"format":"~g","title":"AUPRC"}},"color":{"field":"m","type":"nominal","legend":{"orient":"none","legendX":171,"legendY":5}},"strokeDash":{"field":"m","type":"nominal","scale":{"domain":["GTG α","GTG δ","COSNetM","GBAmax","RANKS","RWR"],"range":[[1,0],[1,0],[1.5,2],[1.5,2],[1.5,2],[1.5,2]]},"legend":{"orient":"none","legendX":171,"legendY":5}}}}
  ]}
 ],
 "resolve":{"scale":{"x":"independent","y":"independent","color":"independent","strokeDash":"independent"},"legend":{"color":"independent","strokeDash":"independent"}}
}
],
"spacing":15,
"resolve":{"scale":{"x":"independent","y":"independent","color":"independent","strokeDash":"independent"},"legend":{"color":"independent","strokeDash":"independent"}}
}
